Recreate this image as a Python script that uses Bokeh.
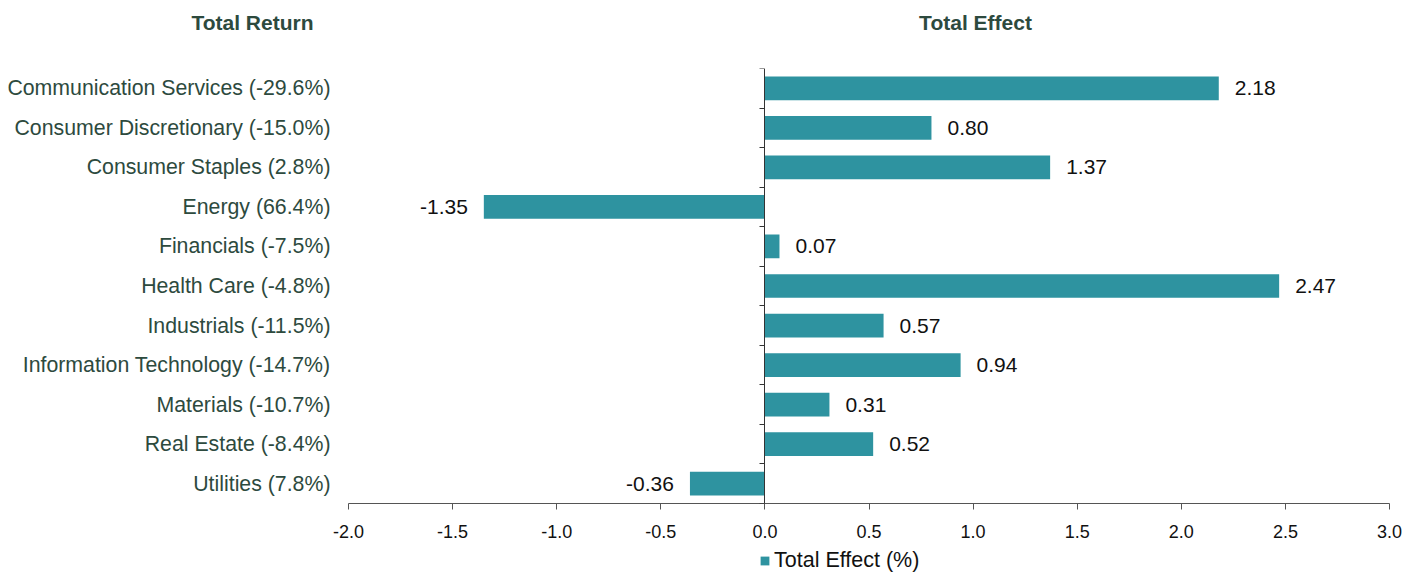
from bokeh.plotting import figure
from bokeh.layouts import column
from bokeh.models import (Range1d, LinearAxis, FixedTicker, NumeralTickFormatter,
                          ColumnDataSource, Legend, LegendItem)
from bokeh.core.properties import value
from bokeh.embed import file_html
from bokeh.resources import INLINE

# Sector attribution data
sectors = ["Communication Services", "Consumer Discretionary", "Consumer Staples",
           "Energy", "Financials", "Health Care", "Industrials",
           "Information Technology", "Materials", "Real Estate", "Utilities"]
total_return = [-29.6, -15.0, 2.8, 66.4, -7.5, -4.8, -11.5, -14.7, -10.7, -8.4, 7.8]
total_effect = [2.18, 0.80, 1.37, -1.35, 0.07, 2.47, 0.57, 0.94, 0.31, 0.52, -0.36]
x_ticks = [-2.0, -1.5, -1.0, -0.5, 0.0, 0.5, 1.0, 1.5, 2.0, 2.5, 3.0]
left_header = "Total Return"
right_header = "Total Effect"
series_name = "Total Effect (%)"

FONT = "Liberation Sans"
BAR = "#2e93a0"
GREEN = "#2d4a3e"
FW, FH = 1041, 435          # plotting frame size
LEFT, RIGHT = 348, 21       # side margins shared by every row


def strip_axes(f):
    f.outline_line_color = None
    f.xgrid.visible = False
    f.ygrid.visible = False


def no_ticks(ax):
    ax.major_tick_out = 0
    ax.major_tick_in = 0
    ax.minor_tick_out = 0
    ax.minor_tick_in = 0


# Header row: left title sits in the left margin, right title over the bars
HH = 68
head = figure(frame_width=FW, frame_height=HH, output_backend="svg", toolbar_location=None,
              x_range=Range1d(0, FW), y_range=Range1d(0, HH),
              min_border_left=LEFT, min_border_right=RIGHT, min_border_top=0, min_border_bottom=0,
              x_axis_location=None, y_axis_location=None)
strip_axes(head)
title_axis = LinearAxis(ticker=FixedTicker(ticks=[HH - 22]),
                        major_label_overrides={HH - 22: left_header})
title_axis.axis_line_color = None
no_ticks(title_axis)
title_axis.major_label_standoff = 35
title_axis.major_label_text_font = FONT
title_axis.major_label_text_font_size = "21px"
title_axis.major_label_text_font_style = "bold"
title_axis.major_label_text_color = GREEN
head.add_layout(title_axis, "left")
head.text(x=[975 - LEFT], y=[HH - 22], text=[right_header], text_align="center",
          text_baseline="middle", text_font=value(FONT), text_font_size="21px",
          text_font_style="bold", text_color=GREEN)

# Main bar chart
n = len(sectors)
ypos = list(range(n))
labels = [f"{s} ({r:.1f}%)" for s, r in zip(sectors, total_return)]

src = ColumnDataSource(dict(
    y=ypos,
    v=total_effect,
    txt=[f"{v:.2f}" for v in total_effect],
    align=["left" if v >= 0 else "right" for v in total_effect],
    off=[16 if v >= 0 else -16 for v in total_effect],
))

p = figure(frame_width=FW, frame_height=FH, output_backend="svg", toolbar_location=None,
           x_range=Range1d(x_ticks[0], x_ticks[-1]), y_range=Range1d(n - 0.5, -0.5),
           min_border_left=LEFT, min_border_right=RIGHT, min_border_top=0, min_border_bottom=0,
           y_axis_location=None, x_axis_location=None)
strip_axes(p)

p.hbar(y="y", right="v", left=0, height=0.6, source=src, fill_color=BAR, line_color=None)

p.text(x="v", y="y", text="txt", x_offset="off", text_align="align", source=src,
       text_baseline="middle", text_font=value(FONT), text_font_size="21px",
       text_color="#111111")

# Category labels on the far left
cat_axis = LinearAxis(ticker=FixedTicker(ticks=ypos),
                      major_label_overrides={i: lab for i, lab in zip(ypos, labels)})
cat_axis.axis_line_color = None
no_ticks(cat_axis)
cat_axis.major_label_standoff = 18
cat_axis.major_label_text_font = FONT
cat_axis.major_label_text_font_size = "21.3px"
cat_axis.major_label_text_color = GREEN
p.add_layout(cat_axis, "left")

# Zero line with band separators
bounds = [i - 0.5 for i in range(n + 1)]
zero_axis = LinearAxis(ticker=FixedTicker(ticks=bounds), fixed_location=0,
                       major_label_overrides={b: "" for b in bounds})
zero_axis.axis_line_color = "#333333"
zero_axis.major_tick_line_color = "#333333"
no_ticks(zero_axis)
zero_axis.major_tick_in = 5
zero_axis.major_label_standoff = 0
p.add_layout(zero_axis, "right")

# Value axis
x_axis = LinearAxis(ticker=FixedTicker(ticks=x_ticks),
                    formatter=NumeralTickFormatter(format="0.0"))
x_axis.axis_line_color = "#555555"
x_axis.major_tick_line_color = "#555555"
no_ticks(x_axis)
x_axis.major_tick_out = 6
x_axis.major_label_standoff = 15
x_axis.major_label_text_font = FONT
x_axis.major_label_text_font_size = "18px"
x_axis.major_label_text_color = "#111111"
p.add_layout(x_axis, "below")

# Footer row holding the legend
FOOT = 33
foot = figure(frame_width=FW, frame_height=FOOT, output_backend="svg", toolbar_location=None,
              x_range=Range1d(0, FW), y_range=Range1d(0, FOOT),
              min_border_left=LEFT, min_border_right=RIGHT, min_border_top=0, min_border_bottom=0,
              x_axis_location=None, y_axis_location=None)
strip_axes(foot)
swatch = foot.hbar(y=[0], left=[0], right=[0], height=0, fill_color=BAR, line_color=None)
legend = Legend(items=[LegendItem(label=series_name, renderers=[swatch])],
                location=(759 - LEFT, 0), orientation="horizontal",
                glyph_width=11, glyph_height=11, label_standoff=4,
                label_text_font=FONT, label_text_font_size="21.5px",
                label_text_color="#111111", border_line_color=None,
                background_fill_alpha=0, padding=0, margin=0)
foot.add_layout(legend, "center")

layout = column(head, p, foot, spacing=0)
open("out.html", "w").write(file_html(layout, INLINE))
